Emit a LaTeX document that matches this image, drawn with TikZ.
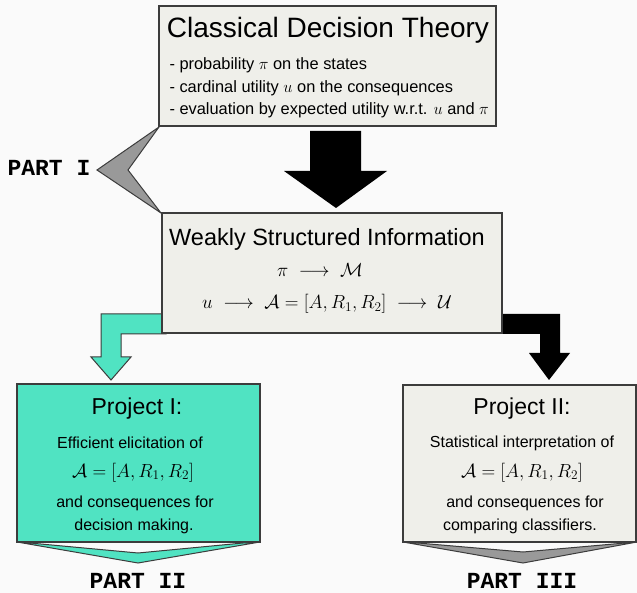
\RequirePackage{fix-cm}
\documentclass[tikz,border=0pt]{standalone}
\usepackage{amsmath}
\usepackage{fontspec}
\setmainfont{Liberation Sans}
\newfontfamily\partfont{Liberation Mono}
\usepackage{xcolor}
\definecolor{pagegrey}{HTML}{FAFAFA}
\definecolor{boxgrey}{HTML}{EFEFEA}
\definecolor{edgegrey}{HTML}{3C3C3C}
\definecolor{partgrey}{HTML}{999999}
\definecolor{projteal}{HTML}{50E3C2}
\usepackage{tikz}
\usetikzlibrary{positioning}

\tikzset{
  infobox/.style={draw=edgegrey, line width=1.2pt, fill=boxgrey, inner sep=0pt},
  projbox/.style={infobox, fill=projteal},
  marker/.style={draw=edgegrey, line width=1pt},
  bigtitle/.style={anchor=base, font=\fontsize{28}{32}\selectfont},
  midtitle/.style={anchor=base, font=\fontsize{23.5}{28}\selectfont},
  projtitle/.style={anchor=base, font=\fontsize{23}{27}\selectfont},
  bodyline/.style={anchor=base, font=\fontsize{16}{19}\selectfont},
  mathline/.style={anchor=base, font=\fontsize{19}{22}\selectfont},
  partlabel/.style={anchor=base, font=\partfont\bfseries\fontsize{23}{26}\selectfont}
}

\begin{document}
\begin{tikzpicture}[x=1pt, y=-1pt]
  \fill[pagegrey] (0,0) rectangle (637,593);
  \useasboundingbox (0,0) rectangle (637,593);

  % block arrows go first, the boxes cover their ends
  \fill[black] (310,131) -- (361,131) -- (361,171) -- (387,171) -- (336,208)
    -- (284,171) -- (310,171) -- cycle;
  \filldraw[marker, fill=projteal] (166,314) -- (101,314) -- (101,357) -- (91,357)
    -- (111,380) -- (131,357) -- (121,357) -- (121,334) -- (166,334) -- cycle;
  \fill[black] (496,314) -- (560,314) -- (560,353) -- (570,353) -- (549,380)
    -- (529,353) -- (540,353) -- (540,334) -- (496,334) -- cycle;

  % PART I marker between the two upper boxes
  \filldraw[marker, fill=partgrey] (159,127) -- (97,170) -- (161,213) -- (128,170) -- cycle;
  \node[partlabel] (part1) at (49,176) {PART I};

  % boxes
  \node[infobox, minimum width=337pt, minimum height=120pt] (cdt) at (327.5,66) {};
  \node[infobox, minimum width=340pt, minimum height=120pt] (wsi) at (332,273) {};
  \node[projbox, minimum width=243pt, minimum height=158pt] (proj1) at (138.5,463) {};
  \node[infobox, minimum width=233pt, minimum height=157pt] (proj2) at (519.5,463.5) {};

  % chevrons under the projects
  \filldraw[marker, fill=projteal] (17,542) -- (138,563) -- (260,542) -- (243,543)
    -- (138,553) -- (30,543) -- cycle;
  \filldraw[marker, fill=partgrey] (403,542) -- (523,563) -- (637,542) -- (625,543)
    -- (523,552) -- (418,543) -- cycle;
  \node[partlabel] (part2) at (138,588) {PART II};
  \node[partlabel] (part3) at (522,588) {PART III};

  % classical decision theory
  \node[bigtitle] (cdt-title) at (328,38) {Classical Decision Theory};
  \node[bodyline, anchor=base west, font=\fontsize{16.4}{19}\selectfont] (cdt-l1) at (166,70) {- probability $\pi$ on the states};
  \node[bodyline, anchor=base west, font=\fontsize{16.4}{19}\selectfont] (cdt-l2) at (166,93) {- cardinal utility $u$ on the consequences};
  \node[bodyline, anchor=base west, font=\fontsize{16.4}{19}\selectfont] (cdt-l3) at (166,115) {- evaluation by expected utility w.r.t. $u$ and $\pi$};

  % weakly structured information
  \node[midtitle] (wsi-title) at (327,246) {Weakly Structured Information};
  \node[mathline] (wsi-pi) at (320,277) {$\pi \;\longrightarrow\; \mathcal{M}$};
  \node[mathline] (wsi-u) at (327,309)
    {$u \;\longrightarrow\; \mathcal{A} = [A, R_1, R_2] \;\longrightarrow\; \mathcal{U}$};

  % project I
  \node[projtitle] (p1-title) at (137,414) {Project I:};
  \node[bodyline] (p1-l1) at (130,448) {Efficient elicitation of};
  \node[mathline] (p1-l2) at (133,477) {$\mathcal{A} = [A, R_1, R_2]$};
  \node[bodyline] (p1-l3) at (135,507) {and consequences for};
  \node[bodyline] (p1-l4) at (134,530) {decision making.};

  % project II
  \node[projtitle] (p2-title) at (522,414) {Project II:};
  \node[bodyline] (p2-l1) at (522,447) {Statistical interpretation of};
  \node[mathline] (p2-l2) at (522,477) {$\mathcal{A} = [A, R_1, R_2]$};
  \node[bodyline] (p2-l3) at (525,507) {and consequences for};
  \node[bodyline] (p2-l4) at (520,530) {comparing classifiers.};
\end{tikzpicture}
\end{document}
